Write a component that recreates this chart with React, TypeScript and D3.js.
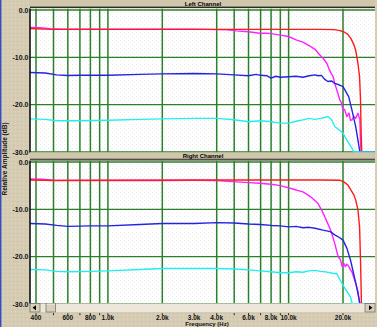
import React from 'react';
import * as d3 from 'd3';

// ---- axis definitions ----
const gridFreqs = [400, 500, 600, 700, 800, 900, 1000, 2000, 4000, 5000, 6000, 7000, 8000, 9000, 10000, 20000];
const tickMarkFreqs = [400, 500, 600, 700, 800, 900, 1000, 2000, 3000, 4000, 5000, 6000, 7000, 8000, 9000, 10000, 20000];
const tickLabelFreqs = [400, 600, 800, 1000, 2000, 3000, 4000, 6000, 8000, 10000, 20000];
const tickLabels = ['400', '600', '800', '1.0k', '2.0k', '3.0k', '4.0k', '6.0k', '8.0k', '10.0k', '20.0k'];
const dbTicks = [0, -10, -20, -30];
const dbTickLabels = ['0.0', '-10.0', '-20.0', '-30.0'];
const panelTitles = ['Left Channel', 'Right Channel'];

// ---- Left channel series: [Hz, dB] ----
const leftRed: [number, number][] = [
  [370, -3.9], [400, -3.95], [450, -4.05], [500, -4.1], [1000, -4.1], [2000, -4.1], [5000, -4.1], [10000, -4.1],
  [15000, -4.1], [17800, -4.15], [19000, -4.3], [20200, -4.6], [21200, -5.1], [22100, -6.0], [22900, -7.2],
  [23500, -8.5], [24200, -11.3], [24700, -14.1], [25000, -19], [25200, -26], [25400, -30], [29700, -30],
];
const leftMagenta: [number, number][] = [
  [370, -3.7], [420, -3.75], [480, -3.95], [550, -4.05], [1000, -4.05], [2000, -4.05], [3000, -4.05], [4000, -4.15],
  [4600, -4.2], [5150, -4.4], [6000, -4.6], [6900, -4.9], [7500, -4.9], [8000, -5.0], [9000, -5.3], [10000, -5.6],
  [11000, -6.3], [12000, -6.8], [13200, -7.7], [14000, -8.3], [14900, -9.5], [15600, -10.3], [16300, -11.3],
  [16800, -12.6], [17200, -13.4], [17600, -14.0], [18000, -15.5], [18600, -17.2], [19200, -19], [19600, -19.6],
  [20000, -21.1], [20400, -21.0], [21000, -22.5], [21600, -21.8], [22000, -23.3], [22400, -23.2], [23000, -22.5],
  [23500, -22.9], [24200, -21.8], [24500, -22.5], [24800, -23], [25000, -28], [25200, -30], [29700, -30],
];
const leftBlue: [number, number][] = [
  [370, -13.2], [450, -13.3], [520, -13.7], [600, -13.85], [700, -13.8], [1000, -13.8], [1500, -13.6], [2000, -13.5],
  [3000, -13.4], [4000, -13.5], [5000, -13.7], [6000, -13.9], [6600, -13.6], [7000, -13.8], [7600, -13.9],
  [8000, -14.4], [8500, -14.0], [9000, -14.2], [10000, -14.1], [11000, -14.0], [12000, -14.2], [13000, -13.9],
  [14000, -13.7], [14600, -13.9], [15200, -13.8], [15800, -14.6], [16500, -15.1], [17300, -15.0], [18000, -15.5],
  [19000, -15.8], [20000, -16.2], [21500, -18.3], [22400, -21.1], [23500, -24.6], [24200, -27.5], [24800, -30],
  [29700, -30],
];
const leftCyan: [number, number][] = [
  [370, -23.0], [450, -23.1], [520, -23.4], [700, -23.4], [1000, -23.3], [1500, -23.1], [2000, -23.0], [3000, -22.9],
  [4000, -22.9], [5000, -23.2], [6000, -23.6], [7000, -23.4], [8000, -23.6], [9000, -23.9], [10000, -23.9],
  [11000, -23.5], [12000, -23.2], [13000, -22.9], [14000, -23.1], [15000, -22.9], [15800, -22.7], [16500, -22.5],
  [17300, -23.2], [18000, -24.6], [19000, -25.3], [20000, -26], [21000, -27.5], [22400, -29.2], [23000, -30],
  [29700, -30],
];

// ---- Right channel series: [Hz, dB] ----
const rightRed: [number, number][] = [
  [370, -3.8], [450, -3.85], [500, -3.9], [1000, -3.85], [5000, -3.8], [10000, -3.8], [15000, -3.8], [19200, -3.85],
  [20200, -4.2], [21200, -4.8], [22100, -5.9], [23000, -7.0], [23500, -8.0], [24200, -10.1], [24700, -13.7],
  [25000, -20.7], [25300, -30], [29700, -30],
];
const rightMagenta: [number, number][] = [
  [370, -3.6], [430, -3.65], [500, -3.85], [1000, -3.9], [2000, -3.9], [3000, -3.85], [4000, -3.9], [5150, -4.2],
  [6000, -4.35], [6900, -4.5], [8000, -4.7], [9000, -5.0], [10300, -5.6], [12000, -6.3], [13200, -7.3],
  [14500, -8.7], [15400, -10.5], [16300, -12.6], [17200, -14.7], [18000, -17.2], [18800, -20.0], [19300, -20.5],
  [19800, -22.1], [20300, -21.5], [20600, -22.1], [21000, -21.6], [21500, -22.0], [22000, -22.8], [22400, -23.2],
  [23000, -24.5], [23500, -25.6], [24200, -27.4], [24800, -30], [29700, -30],
];
const rightBlue: [number, number][] = [
  [370, -13.0], [450, -13.1], [520, -13.4], [600, -13.6], [800, -13.5], [1000, -13.5], [1500, -13.2], [2000, -13.0],
  [3000, -13.0], [4000, -12.8], [5000, -12.9], [6000, -13.1], [7000, -13.2], [8000, -13.4], [9000, -13.5],
  [10000, -13.7], [11000, -13.6], [12000, -13.9], [13000, -13.8], [14000, -14.0], [15500, -14.4], [17000, -14.7],
  [18000, -15.4], [19000, -15.9], [20000, -16.5], [21000, -18.2], [22000, -20.7], [23000, -23.9], [24000, -27],
  [24800, -30], [29700, -30],
];
const rightCyan: [number, number][] = [
  [370, -22.7], [450, -22.8], [520, -23.1], [600, -23.2], [800, -23.1], [1000, -23.0], [1500, -22.7], [2000, -22.5],
  [3000, -22.5], [4000, -22.5], [5000, -22.6], [6000, -22.8], [7000, -23.0], [8000, -23.2], [9000, -23.4],
  [10000, -23.4], [11000, -23.2], [12000, -23.3], [13000, -23.0], [14000, -22.9], [15000, -23.1], [16000, -23.2],
  [17500, -23.5], [18500, -23.6], [19500, -25.3], [20500, -26.7], [22000, -28.5], [22500, -30], [29700, -30],
];

// drawing order: magenta, red, blue, cyan
const seriesColors = ['#ff22ff', '#ff1a1a', '#2424e0', '#22eeee'];
const leftSeries = [leftMagenta, leftRed, leftBlue, leftCyan];
const rightSeries = [rightMagenta, rightRed, rightBlue, rightCyan];

const FONT = "'Liberation Sans', Arial, Helvetica, sans-serif";
const BEIGE = '#d5ccb3';
const GRID = '#2b7f2b';

export default function App() {
  const W = 377, H = 327;
  const plotL = 30, plotR = 375;
  const x = d3.scaleLog().domain([400, 20000]).range([36, 343]);

  const panels = [
    { title: panelTitles[0], top: 8.5, bottom: 152.5, y: d3.scaleLinear().domain([-30, 0]).range([152, 10]), series: leftSeries, titleY: 6.3 },
    { title: panelTitles[1], top: 160.8, bottom: 303.5, y: d3.scaleLinear().domain([-30, 0]).range([304, 162]), series: rightSeries, titleY: 158.2 },
  ];

  return (
    <svg width={W} height={H} viewBox={`0 0 ${W} ${H}`} style={{ position: 'absolute', left: 0, top: 0, display: 'block' }} fontFamily={FONT}>
      <defs>
        <pattern id="plotDots" width="4" height="4" patternUnits="userSpaceOnUse">
          <rect width="4" height="4" fill="#ffffff" />
          <rect x="0" y="0" width="1" height="1" fill="#ebebeb" />
          <rect x="2" y="2" width="1" height="1" fill="#f2f2f2" />
        </pattern>
        <pattern id="bgDots" width="4" height="4" patternUnits="userSpaceOnUse">
          <rect width="4" height="4" fill={BEIGE} />
          <rect x="1" y="1" width="1" height="1" fill="#c8bfa5" />
          <rect x="3" y="3" width="1" height="1" fill="#dcd4bd" />
        </pattern>
        {panels.map((p, i) => (
          <clipPath id={`clip${i}`} key={i}>
            <rect x={plotL} y={p.top} width={plotR - plotL} height={p.bottom - p.top + 0.5} />
          </clipPath>
        ))}
      </defs>

      <rect width={W} height={H} fill="url(#bgDots)" />
      <rect x={0} y={0} width={1.4} height={H} fill="#2f4cc4" />

      {panels.map((p, i) => {
        const line = d3.line<[number, number]>()
          .x(d => x(d[0]))
          .y(d => p.y(Math.max(-30, d[1])));
        return (
          <g key={i}>
            {/* header band */}
            <rect x={plotL} y={p.top - 8.5} width={plotR - plotL} height={6} fill="#cfc6ab" />
            <line x1={plotL} x2={plotR} y1={p.top - 2} y2={p.top - 2} stroke="#8f8872" strokeWidth={1} />
            <line x1={plotL} x2={plotR} y1={p.top - 1} y2={p.top - 1} stroke="#2a2a2a" strokeWidth={1.2} />
            <text x={203} y={p.titleY} textAnchor="middle" fontSize={6} fontWeight="bold" fill="#000">{p.title}</text>

            {/* plot background */}
            <rect x={plotL} y={p.top} width={plotR - plotL} height={p.bottom - p.top} fill="url(#plotDots)" />

            {/* grid */}
            <g clipPath={`url(#clip${i})`}>
              {gridFreqs.map(f => (
                <line key={f} x1={x(f)} x2={x(f)} y1={p.top} y2={p.bottom} stroke={GRID} strokeWidth={1.5} />
              ))}
              {dbTicks.map(v => (
                <line key={v} x1={plotL} x2={plotR} y1={p.y(v)} y2={p.y(v)} stroke={GRID} strokeWidth={1.4} />
              ))}
              {p.series.map((s, k) => (
                <path key={k} d={line(s) || ''} fill="none" stroke={seriesColors[k]} strokeWidth={1.4} strokeLinejoin="round" />
              ))}
            </g>

            {/* left axis */}
            <line x1={plotL} x2={plotL} y1={p.top} y2={p.bottom} stroke="#111" strokeWidth={1.6} />

            {/* y tick labels */}
            {dbTicks.map((v, k) => (
              <text key={v} x={28.5} y={p.y(v) + 2.5} textAnchor="end" fontSize={7} fontWeight="bold" fill="#111">{dbTickLabels[k]}</text>
            ))}
          </g>
        );
      })}

      {/* y axis title */}
      <text transform="translate(7.2,159) rotate(-90)" textAnchor="middle" fontSize={6.5} fontWeight="bold" fill="#111">Relative Amplitude (dB)</text>

      {/* scrollbar */}
      <rect x={plotL} y={303.5} width={plotR - plotL} height={8.5} fill="#ece7da" />
      <g>
        <rect x={30} y={303.5} width={10} height={8.5} fill="#d8d0b8" stroke="#555" strokeWidth={0.6} />
        <polygon points="32.5,307.75 36,305.3 36,310.2" fill="#000" />
        <rect x={46} y={303.5} width={9.5} height={8.5} fill="#d8d0b8" stroke="#555" strokeWidth={0.6} />
        <line x1={46.5} x2={55} y1={304} y2={304} stroke="#fff" strokeWidth={0.8} />
        <rect x={365} y={303.5} width={10} height={8.5} fill="#d8d0b8" stroke="#555" strokeWidth={0.6} />
        <polygon points="372.5,307.75 369,305.3 369,310.2" fill="#000" />
      </g>

      {/* x tick marks and labels */}
      {tickMarkFreqs.map(f => (
        <line key={f} x1={x(f)} x2={x(f)} y1={313.2} y2={315.2} stroke="#222" strokeWidth={1} />
      ))}
      {tickLabelFreqs.map((f, k) => (
        <text key={f} x={x(f)} y={320.3} textAnchor="middle" fontSize={6.5} fontWeight="bold" fill="#111">{tickLabels[k]}</text>
      ))}
      <text x={207} y={325.8} textAnchor="middle" fontSize={6} fontWeight="bold" fill="#111">Frequency (Hz)</text>
    </svg>
  );
}
